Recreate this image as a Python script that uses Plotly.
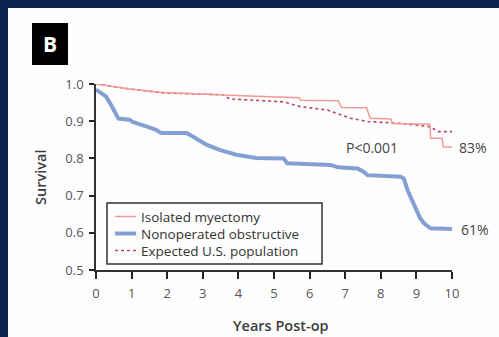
import plotly.graph_objects as go

# Kaplan-Meier style survival estimates (years after operation vs. survival)
myectomy_years = [0, 1.0, 1.9, 3.6, 4.3, 5.7, 5.75, 6.8, 6.9, 7.6, 7.7, 8.28, 8.33, 9.38, 9.4, 9.72, 9.75, 10]
myectomy_surv = [1.0, 0.986, 0.977, 0.972, 0.968, 0.963, 0.956, 0.955, 0.937, 0.936, 0.908, 0.906, 0.894, 0.892, 0.854, 0.854, 0.831, 0.83]

nonop_years = [0, 0.1, 0.28, 0.42, 0.55, 0.63, 0.94, 1.03, 1.41, 1.69, 1.83, 2.54, 2.72, 2.9, 3.1, 3.47,
               3.94, 4.5, 5.27, 5.37, 6.6, 6.8, 7.35, 7.5, 7.63, 8.56, 8.65, 8.75, 8.93, 9.1, 9.22, 9.4, 10]
nonop_surv = [0.985, 0.978, 0.967, 0.944, 0.92, 0.907, 0.904, 0.898, 0.886, 0.877, 0.868, 0.868, 0.859, 0.85, 0.837, 0.823,
              0.81, 0.801, 0.8, 0.787, 0.782, 0.776, 0.773, 0.765, 0.755, 0.751, 0.745, 0.715, 0.675, 0.64, 0.625, 0.612, 0.61]

expected_years = [0, 0.5, 1.0, 1.88, 3.0, 3.57, 3.75, 4.34, 5.27, 5.75, 6.5, 7.15, 7.63, 8.56, 9.4, 9.6, 10]
expected_surv = [1.0, 0.993, 0.986, 0.976, 0.973, 0.971, 0.96, 0.957, 0.952, 0.939, 0.93, 0.908, 0.899, 0.894, 0.885, 0.872, 0.872]

series_names = ["Isolated myectomy", "Nonoperated obstructive", "Expected U.S. population"]
end_labels = ["83%", "61%"]
p_value_text = "P<0.001"
x_ticks = list(range(0, 11))
y_ticks = [0.5, 0.6, 0.7, 0.8, 0.9, 1.0]

W, H = 499, 337
L, R, T, B = 96, 47, 84, 67          # plot area: x 96..452, y 84..270
PW, PH = W - L - R, H - T - B

def px(x):
    return (x - L) / PW

def py(y):
    return (H - B - y) / PH

RED = "#f29a92"
BLUE = "#84a0d2"
DOT = "#b5485e"
NAVY = "#0b224f"
PANEL = "#fefefe"
FONT = "Open Sans"

fig = go.Figure()
fig.add_trace(go.Scatter(x=expected_years, y=expected_surv, mode="lines",
                         line=dict(color=DOT, width=1.6, dash="dot"), cliponaxis=False))
fig.add_trace(go.Scatter(x=myectomy_years, y=myectomy_surv, mode="lines",
                         line=dict(color=RED, width=1.5), cliponaxis=False))
fig.add_trace(go.Scatter(x=nonop_years, y=nonop_surv, mode="lines",
                         line=dict(color=BLUE, width=4), cliponaxis=False))

shapes = [
    # navy page border along the left edge and the top edge
    dict(type="rect", xref="paper", yref="paper", x0=px(0), x1=px(8), y0=py(H), y1=py(0),
         fillcolor=NAVY, line=dict(width=0), layer="below"),
    dict(type="rect", xref="paper", yref="paper", x0=px(0), x1=px(W), y0=py(8), y1=py(0),
         fillcolor=NAVY, line=dict(width=0), layer="below"),
    # right-hand side of the light panel
    dict(type="rect", xref="paper", yref="paper", x0=px(470), x1=px(W), y0=py(H), y1=py(8),
         fillcolor=PANEL, line=dict(width=0), layer="below"),
    # panel letter box
    dict(type="rect", xref="paper", yref="paper", x0=px(32), x1=px(68), y0=py(65), y1=py(23),
         fillcolor="black", line=dict(width=0)),
    # legend frame
    dict(type="rect", xref="paper", yref="paper", x0=px(107), x1=px(322), y0=py(264), y1=py(203),
         fillcolor=PANEL, line=dict(color="#333333", width=1.5)),
]
legend_rows = [216.5, 233.5, 250.5]
legend_styles = [dict(color=RED, width=1.5), dict(color=BLUE, width=4), dict(color=DOT, width=1.5, dash="dot")]
for yrow, st in zip(legend_rows, legend_styles):
    shapes.append(dict(type="line", xref="paper", yref="paper", x0=px(115), x1=px(136),
                       y0=py(yrow), y1=py(yrow), line=st))

def note(text, x, y, **kw):
    d = dict(text=text, x=px(x), y=py(y), xref="paper", yref="paper", showarrow=False,
             xanchor="center", yanchor="middle")
    d.update(kw)
    return d

annotations = [
    note("B", 50, 44.5, font=dict(family=FONT, size=21, color="white", weight="bold")),
    note("Survival", 40, 178, textangle=-90, font=dict(family=FONT, size=14.5, color="#3c3c3c", weight=600)),
    note("Years Post-op", 281, 325, font=dict(family=FONT, size=14.5, color="#3c3c3c", weight=600)),
    dict(text=p_value_text, x=7.75, y=0.83, xref="x", yref="y", showarrow=False,
         xanchor="center", yanchor="middle", font=dict(family=FONT, size=14, color="#444444")),
    dict(text=end_labels[0], x=10, y=myectomy_surv[-1], xref="x", yref="y", showarrow=False,
         xanchor="left", yanchor="middle", xshift=5, font=dict(family=FONT, size=14, color="#444444")),
    dict(text=end_labels[1], x=10, y=nonop_surv[-1], xref="x", yref="y", showarrow=False,
         xanchor="left", yanchor="middle", xshift=7, font=dict(family=FONT, size=14, color="#444444")),
]
for yrow, name in zip(legend_rows, series_names):
    annotations.append(note(name, 139, yrow, xanchor="left",
                            font=dict(family=FONT, size=13.5, color="#333333")))

fig.update_layout(
    width=W, height=H, autosize=False, margin=dict(l=L, r=R, t=T, b=B, pad=0),
    paper_bgcolor=PANEL, plot_bgcolor=PANEL, showlegend=False,
    shapes=shapes, annotations=annotations,
    xaxis=dict(range=[0, 10], tickvals=x_ticks, ticks="outside", ticklen=7, tickwidth=2, tickcolor="#222",
               showline=True, linecolor="#333", linewidth=1.5, showgrid=False, zeroline=False,
               tickfont=dict(family=FONT, size=13, color="#555555"), ticklabelstandoff=4),
    yaxis=dict(range=[0.5, 1.0], tickvals=y_ticks, tickformat=".1f", ticks="outside", ticklen=5, tickwidth=2,
               tickcolor="#222", showline=True, linecolor="#333", linewidth=1.5, showgrid=False, zeroline=False,
               tickfont=dict(family=FONT, size=13, color="#555555"), ticklabelstandoff=3),
)

fig.write_html("out.html", config=dict(displayModeBar=False))
